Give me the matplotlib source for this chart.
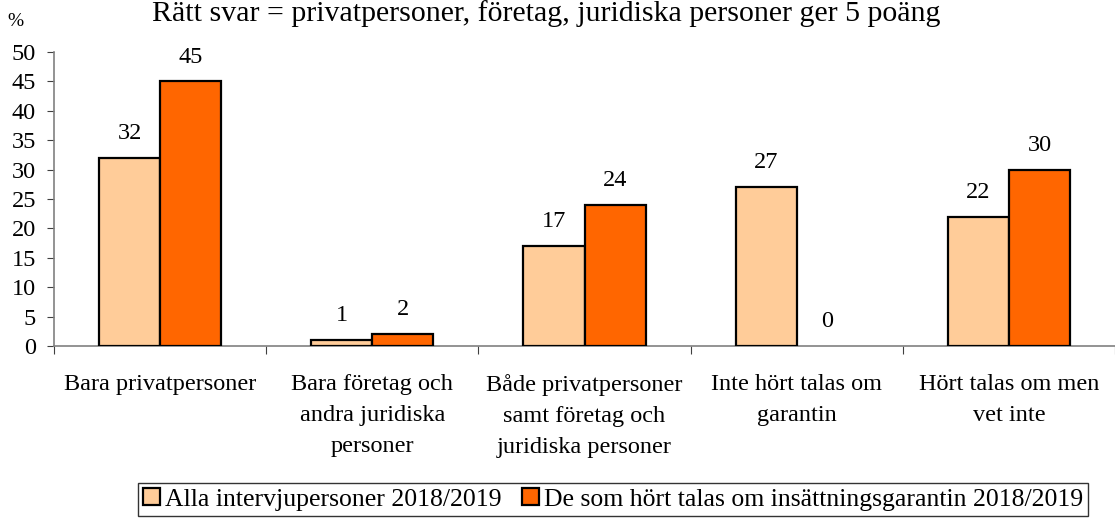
import matplotlib.pyplot as plt
import numpy as np

plt.rcParams['font.family'] = ['Liberation Serif', 'DejaVu Serif']

title = "Rätt svar = privatpersoner, företag, juridiska personer ger 5 poäng"
categories = ["Bara privatpersoner",
              "Bara företag och\nandra juridiska\npersoner",
              "Både privatpersoner\nsamt företag och\njuridiska personer",
              "Inte hört talas om\ngarantin",
              "Hört talas om men\nvet inte"]
alla = [32, 1, 17, 27, 22]
hort = [45, 2, 24, 0, 30]
series_names = ["Alla intervjupersoner 2018/2019",
                "De som hört talas om insättningsgarantin 2018/2019"]
colors = ["#FFCC99", "#FF6600"]

fs = 17.5
fig = plt.figure(figsize=(11.15, 5.18), dpi=100)
ax = fig.add_axes([54 / 1115, 1 - 346 / 518, 1 - 54 / 1115, 294 / 518])

x = np.arange(len(categories)) + 0.5
w = 0.288
for vals, off, col, name in [(alla, -w / 2, colors[0], series_names[0]),
                             (hort, w / 2, colors[1], series_names[1])]:
    edges = ['black' if v > 0 else 'none' for v in vals]
    ax.bar(x + off, vals, width=w, color=col, edgecolor=edges, linewidth=1.6,
           label=name, zorder=3)
    for xi, v in zip(x + off, vals):
        ax.annotate(str(v), (xi, v), xytext=(0, 13.5), textcoords='offset points',
                    ha='center', va='baseline', fontsize=fs)

ax.set_xlim(0, 5)
ax.set_ylim(0, 50)
ax.set_yticks(range(0, 51, 5))
ax.set_xticks(range(0, 6))
ax.set_xticklabels([])
ax.set_xticks(x, minor=True)
ax.set_xticklabels(categories, minor=True, fontsize=fs, linespacing=1.62)
ax.tick_params(axis='x', which='minor', length=0, pad=20)
ax.tick_params(axis='x', which='major', length=6, color='#404040', direction='out')
ax.tick_params(axis='y', labelsize=fs, length=5, color='#404040', pad=8)
for s in ['top', 'right']:
    ax.spines[s].set_visible(False)
for s in ['left', 'bottom']:
    ax.spines[s].set_color('#808080')
    ax.spines[s].set_linewidth(1.2)

fig.text(15 / 1115, 1 - 22 / 518, "%", fontsize=fs * 0.8, ha='center', va='center')
fig.text(546 / 1115, 1 - 21 / 518, title, fontsize=21.5, ha='center', va='baseline')

leg = fig.legend(loc='lower center', bbox_to_anchor=(613 / 1115, 2 / 518),
                 ncol=2, fontsize=18.5, frameon=True, fancybox=False,
                 edgecolor='black', handlelength=0.65, handleheight=0.65,
                 handletextpad=0.2, columnspacing=0.8, borderpad=0.2,
                 borderaxespad=0)
leg.get_frame().set_linewidth(1.0)

fig.savefig("out.png", dpi=100)
